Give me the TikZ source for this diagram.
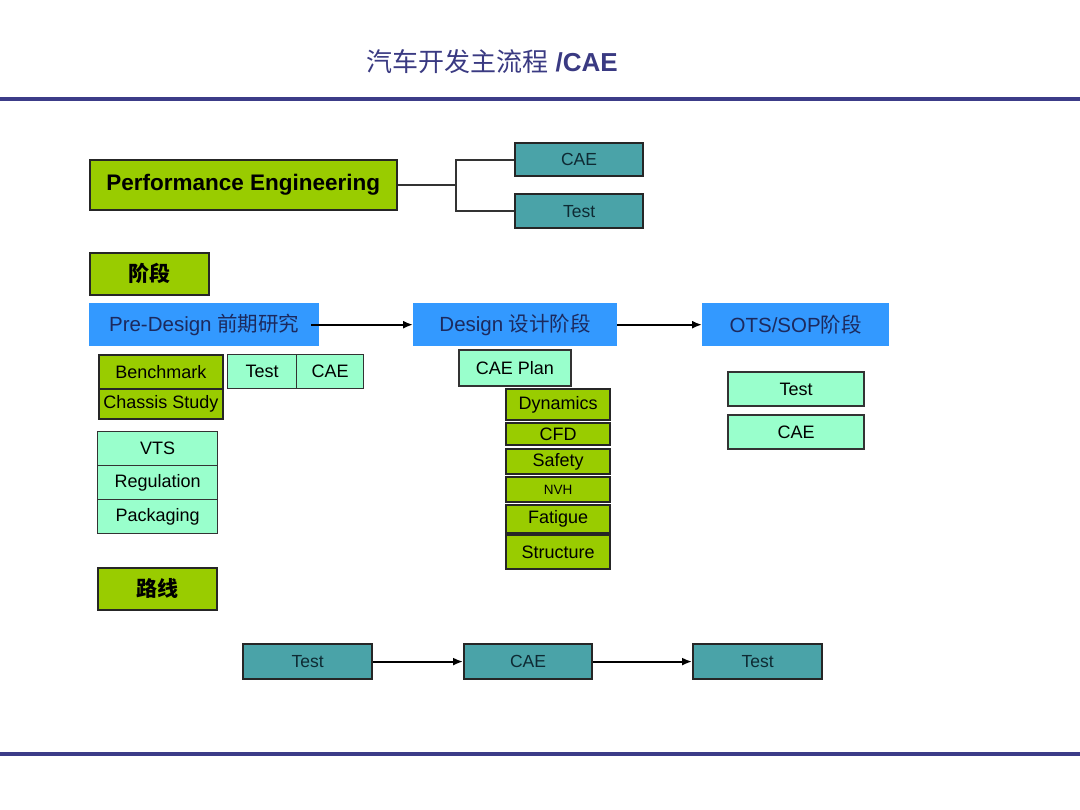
\documentclass[tikz,border=0pt]{standalone}
\usepackage{fontspec}
\setmainfont{Liberation Sans}
\newfontfamily\cjk{Noto Sans CJK SC}
\usetikzlibrary{arrows.meta}
\definecolor{cgreen}{HTML}{99CC00}
\definecolor{cteal}{HTML}{4AA3A8}
\definecolor{caqua}{HTML}{99FFCC}
\definecolor{cblue}{HTML}{3399FF}
\definecolor{cnavy}{HTML}{1C2A5E}
\definecolor{ctitle}{HTML}{3A3A82}
\definecolor{crule}{HTML}{3C3C88}
\definecolor{ctealtext}{HTML}{0E2A33}
\begin{document}
\begin{tikzpicture}[x=1pt,y=-1pt,
  base/.style={rectangle, inner sep=0pt, anchor=north west, font=\fontsize{18}{20}\selectfont, text=black},
  gbox/.style={base, fill=cgreen, draw=black!85, line width=1.6pt},
  tbox/.style={base, fill=cteal, draw=black!85, line width=2.2pt, text=ctealtext, font=\fontsize{17.5}{20}\selectfont},
  abox/.style={base, fill=caqua, draw=black!80, line width=1.4pt},
  bbox/.style={base, fill=cblue, text=cnavy, font=\fontsize{20.5}{22}\selectfont},
  arr/.style={line width=1.8pt, -{Latex[length=10pt,width=8pt]}},
  brk/.style={line width=2pt, draw=black!80},
  rulel/.style={line width=4pt, draw=crule}
]
\useasboundingbox (0,0) rectangle (1080,810);
\fill[white] (0,0) rectangle (1080,810);

% title and rules
\node[text=ctitle, font=\fontsize{26}{28}\selectfont] (title) at (492,62) {{\cjk 汽车开发主流程} \textbf{/CAE}};
\coordinate (r1a) at (0,99.5); \coordinate (r1b) at (1080,99.5);
\coordinate (r2a) at (0,754); \coordinate (r2b) at (1080,754);
\draw[rulel] (r1a) -- (r1b);
\draw[rulel] (r2a) -- (r2b);

% performance engineering
\node[gbox, minimum width=307, minimum height=50, font=\fontsize{22.5}{24}\selectfont\bfseries] (pe) at (89,159) {Performance Engineering};
\node[tbox, minimum width=128, minimum height=33] (cae1) at (514,142) {CAE};
\node[tbox, minimum width=128, minimum height=34] (test1) at (514,193) {Test};
\path (pe.east) ++(58,0) coordinate (bj);
\draw[brk] (pe.east) -- (bj);
\draw[brk] (cae1.west) -| (bj) |- (test1.west);

% stages
\node[gbox, minimum width=119, minimum height=42, font=\fontsize{21}{22}\selectfont\cjk\bfseries] (stage) at (89,252) {阶段};
\node[bbox, minimum width=230, minimum height=43] (pd) at (89,303) {Pre-Design {\cjk 前期研究}};
\node[bbox, minimum width=204, minimum height=43] (des) at (413,303) {Design {\cjk 设计阶段}};
\node[bbox, minimum width=187, minimum height=43] (ots) at (702,303) {OTS/SOP{\cjk 阶段}};
\draw[arr] ([xshift=-8pt]pd.east) -- (des.west);
\draw[arr] (des.east) -- (ots.west);

% pre-design items
\node[gbox, minimum width=124, minimum height=34] (bench) at (98,354) {Benchmark};
\node[gbox, minimum width=124, minimum height=30] (chassis) at (98,388) {Chassis Study};
\node[abox, minimum width=69, minimum height=34] (ptest) at (227,354) {Test};
\node[abox, minimum width=67, minimum height=34] (pcae) at (296,354) {CAE};
\node[abox, minimum width=120, minimum height=34] (vts) at (97,431) {VTS};
\node[abox, minimum width=120, minimum height=34] (reg) at (97,465) {Regulation};
\node[abox, minimum width=120, minimum height=34] (pack) at (97,499) {Packaging};

% design items
\node[abox, line width=2pt, minimum width=112, minimum height=36] (cplan) at (458,349) {CAE Plan};
\node[gbox, line width=2.2pt, minimum width=104, minimum height=31] (dyn) at (505,388) {Dynamics};
\node[gbox, line width=2.2pt, minimum width=104, minimum height=22] (cfd) at (505,422) {CFD};
\node[gbox, line width=2.2pt, minimum width=104, minimum height=25] (saf) at (505,448) {Safety};
\node[gbox, line width=2.2pt, minimum width=104, minimum height=25, font=\fontsize{13.5}{15}\selectfont] (nvh) at (505,476) {NVH};
\node[gbox, line width=2.2pt, minimum width=104, minimum height=28] (fat) at (505,504) {Fatigue};
\node[gbox, line width=2.2pt, minimum width=104, minimum height=34] (str) at (505,534) {Structure};

% ots items
\node[abox, line width=2.2pt, minimum width=136, minimum height=34] (otest) at (727,371) {Test};
\node[abox, line width=2.2pt, minimum width=136, minimum height=34] (ocae) at (727,414) {CAE};

% route
\node[gbox, minimum width=119, minimum height=42, font=\fontsize{21}{22}\selectfont\cjk\bfseries] (route) at (97,567) {路线};
\node[tbox, minimum width=129, minimum height=35] (bt1) at (242,643) {Test};
\node[tbox, minimum width=128, minimum height=35] (bc) at (463,643) {CAE};
\node[tbox, minimum width=129, minimum height=35] (bt2) at (692,643) {Test};
\draw[arr] (bt1.east) -- (bc.west);
\draw[arr] (bc.east) -- (bt2.west);
\end{tikzpicture}
\end{document}
